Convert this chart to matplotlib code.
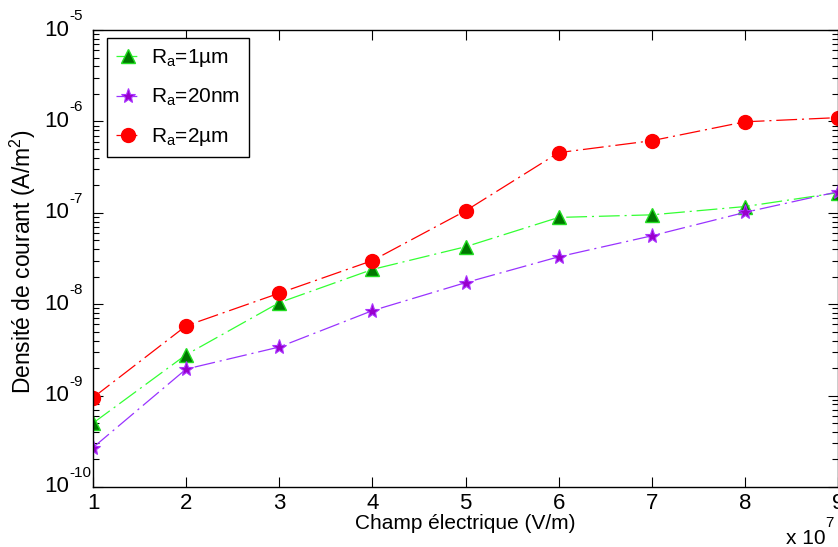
import numpy as np
import matplotlib
matplotlib.use('Agg')
import matplotlib.pyplot as plt
import matplotlib.transforms as mtransforms
from matplotlib.ticker import LogLocator, FixedLocator, NullFormatter

plt.rcParams['font.family'] = ['Liberation Sans', 'DejaVu Sans']
plt.rcParams['mathtext.fontset'] = 'custom'
plt.rcParams['mathtext.rm'] = 'Liberation Sans'
plt.rcParams['mathtext.default'] = 'regular'
plt.rcParams['lines.scale_dashes'] = False

# Champ électrique (x 10^7 V/m)
champ = [1, 2, 3, 4, 5, 6, 7, 8, 9]
# Densité de courant (A/m^2)
j_1um = [5.0e-10, 2.8e-9, 1.04e-8, 2.4e-8, 4.25e-8, 8.9e-8, 9.5e-8, 1.17e-7, 1.66e-7]
j_20nm = [2.7e-10, 1.95e-9, 3.4e-9, 8.5e-9, 1.72e-8, 3.3e-8, 5.6e-8, 1.01e-7, 1.7e-7]
j_2um = [9.5e-10, 5.8e-9, 1.32e-8, 3.0e-8, 1.05e-7, 4.55e-7, 6.15e-7, 9.9e-7, 1.1e-6]
y_exponents = [-10, -9, -8, -7, -6, -5]

dashdot = (0, (15, 3.5, 1.5, 3.5))
W, H = 838, 547

fig = plt.figure(figsize=(W / 100, H / 100), dpi=100)
ax = fig.add_axes([93 / W, 1 - 487 / H, 745 / W, 457 / H])

ax.plot(champ, j_1um, linestyle=dashdot, color='#33ff33', linewidth=0.9,
        marker='^', markersize=10, markerfacecolor='#007700',
        markeredgecolor='#22dd22', markeredgewidth=1.0,
        label=r'R$_a$=1µm')
ax.plot(champ, j_20nm, linestyle=dashdot, color='#9933ff', linewidth=0.9,
        marker='*', markersize=11, markerfacecolor='#9900cc',
        markeredgecolor='#aa33ff', markeredgewidth=0.8,
        label=r'R$_a$=20nm')
ax.plot(champ, j_2um, linestyle=dashdot, color='#ff0000', linewidth=0.9,
        marker='o', markersize=10, markerfacecolor='#ff0000',
        markeredgecolor='#ff0000',
        label=r'R$_a$=2µm')

ax.set_yscale('log')
ax.set_xlim(1, 9)
ax.set_ylim(1e-10, 1e-5)
ax.xaxis.set_major_locator(FixedLocator(champ))
ax.yaxis.set_major_locator(LogLocator(base=10, numticks=10))
ax.yaxis.set_minor_locator(LogLocator(base=10, subs=np.arange(2, 10), numticks=20))
ax.yaxis.set_major_formatter(NullFormatter())
ax.yaxis.set_minor_formatter(NullFormatter())

ax.tick_params(axis='both', which='major', direction='in', length=7, width=0.8,
               top=True, right=True, labelsize=16, pad=4)
ax.tick_params(axis='y', which='minor', direction='in', length=4, width=0.8,
               right=True)
for s in ax.spines.values():
    s.set_linewidth(1.0)

# y tick labels drawn MATLAB style: "10" centred on the tick, exponent raised after it
ytrans = ax.get_yaxis_transform()
sup = mtransforms.offset_copy(ytrans, fig=fig, x=0, y=7, units='dots')
x_lab = (69 - 93) / 745
for e in y_exponents:
    ax.text(x_lab, 10.0 ** e, '10', transform=ytrans, ha='right', va='center',
            fontsize=16, clip_on=False)
    ax.text(x_lab, 10.0 ** e, str(e), transform=sup, ha='left', va='bottom',
            fontsize=11, clip_on=False)

ax.set_xlabel('Champ électrique (V/m)', fontsize=15, labelpad=0)
fig.text(23 / W, 1 - 262 / H, r'Densité de courant (A/m$^2$)', fontsize=16.5,
         rotation=90, ha='center', va='center')

# x10^7 multiplier under the right end of the x axis
fig.text(826 / W, 1 - 544 / H, 'x 10', fontsize=15, ha='right', va='baseline')
fig.text(825 / W, 1 - 530 / H, '7', fontsize=11, ha='left', va='bottom')

leg = ax.legend(loc='upper left', fontsize=15, frameon=True, fancybox=False,
                edgecolor='black', framealpha=1, handlelength=1.15,
                borderpad=0.45, labelspacing=0.85, handletextpad=0.5,
                borderaxespad=0, bbox_to_anchor=(14 / 745, 1 - 8 / 457))
leg.get_frame().set_linewidth(1.0)

fig.savefig('out.png', dpi=100)
